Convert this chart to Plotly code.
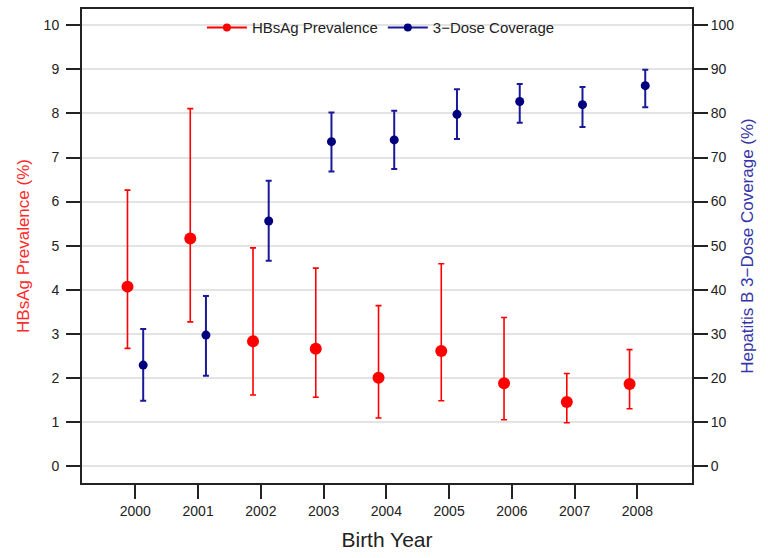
import plotly.graph_objects as go

years = [2000, 2001, 2002, 2003, 2004, 2005, 2006, 2007, 2008]

# HBsAg prevalence (%) with 95% CI
hbsag = [4.07, 5.16, 2.83, 2.66, 2.00, 2.61, 1.88, 1.45, 1.86]
hbsag_lo = [2.67, 3.27, 1.61, 1.56, 1.09, 1.48, 1.05, 0.98, 1.30]
hbsag_hi = [6.26, 8.11, 4.95, 4.49, 3.64, 4.59, 3.37, 2.10, 2.64]

# 3-dose coverage (%) with 95% CI
cov = [22.9, 29.7, 55.6, 73.6, 74.0, 79.8, 82.7, 82.0, 86.3]
cov_lo = [14.8, 20.5, 46.6, 66.8, 67.4, 74.2, 77.9, 76.9, 81.4]
cov_hi = [31.1, 38.6, 64.7, 80.2, 80.6, 85.5, 86.7, 86.0, 89.9]

year_ticks = [str(y) for y in years]
left_ticks = list(range(0, 11))
right_ticks = list(range(0, 101, 10))

RED = "#ff0000"
NAVY = "#00007f"
NAVY_BAR = "#1a1a99"

off = 0.125
x_red = [y - off for y in years]
x_blue = [y + off for y in years]

fig = go.Figure()

fig.add_trace(go.Scatter(
    x=x_red, y=hbsag, mode="markers", showlegend=False,
    marker=dict(color=RED, size=12),
    error_y=dict(type="data", symmetric=False,
                 array=[h - v for h, v in zip(hbsag_hi, hbsag)],
                 arrayminus=[v - l for v, l in zip(hbsag, hbsag_lo)],
                 color=RED, thickness=1.6, width=3),
))
fig.add_trace(go.Scatter(
    x=x_blue, y=cov, mode="markers", showlegend=False, yaxis="y2",
    marker=dict(color=NAVY, size=9),
    error_y=dict(type="data", symmetric=False,
                 array=[h - v for h, v in zip(cov_hi, cov)],
                 arrayminus=[v - l for v, l in zip(cov, cov_lo)],
                 color=NAVY_BAR, thickness=2, width=3),
))

# legend entries
fig.add_trace(go.Scatter(x=[None], y=[None], mode="lines+markers",
                         name="HBsAg Prevalence",
                         line=dict(color=RED, width=2),
                         marker=dict(color=RED, size=8)))
fig.add_trace(go.Scatter(x=[None], y=[None], mode="lines+markers",
                         name="3\u2212Dose Coverage", yaxis="y2",
                         line=dict(color=NAVY_BAR, width=2),
                         marker=dict(color=NAVY, size=8)))

tickfont = dict(family="Liberation Sans, Arial, sans-serif", size=14, color="#222222")

fig.update_layout(
    width=768, height=558,
    margin=dict(l=82, r=76, t=9, b=75),
    paper_bgcolor="white", plot_bgcolor="white",
    font=dict(family="Liberation Sans, Arial, sans-serif"),
    xaxis=dict(
        range=[1999.15, 2008.87], automargin=False,
        tickvals=years, ticktext=year_ticks,
        ticks="outside", ticklen=14, tickwidth=2, tickcolor="#222222",
        tickfont=tickfont,
        showgrid=False, zeroline=False,
        showline=True, linecolor="#222222", linewidth=2, mirror=True,
        title=dict(text="Birth Year", font=dict(size=21, color="#222222"), standoff=15),
    ),
    yaxis=dict(
        range=[-0.386, 10.37], automargin=False,
        tickvals=left_ticks,
        ticks="outside", ticklen=14, tickwidth=2, tickcolor="#222222",
        tickfont=tickfont, ticklabelstandoff=4,
        showgrid=True, gridcolor="#e3e3e3", gridwidth=1.5,
        zeroline=False,
        showline=True, linecolor="#222222", linewidth=2,
        title=dict(text="HBsAg Prevalence (%)", font=dict(size=17, color="#ff2a2a"), standoff=10),
    ),
    yaxis2=dict(
        range=[-3.86, 103.7], automargin=False,
        tickvals=right_ticks,
        overlaying="y", side="right",
        ticks="outside", ticklen=14, tickwidth=2, tickcolor="#222222",
        tickfont=tickfont,
        showgrid=False, zeroline=False,
        showline=True, linecolor="#222222", linewidth=2,
        title=dict(text="Hepatitis B 3\u2212Dose Coverage (%)", font=dict(size=17, color="#3535a8"), standoff=8),
    ),
    legend=dict(
        orientation="h", x=0.49, xanchor="center", y=0.995, yanchor="top",
        font=dict(size=15, color="#222222"), itemwidth=40,
        bgcolor="rgba(0,0,0,0)",
    ),
)

fig.write_html("out.html", config={"displayModeBar": False},
               post_script="document.body.style.margin='0px';")
